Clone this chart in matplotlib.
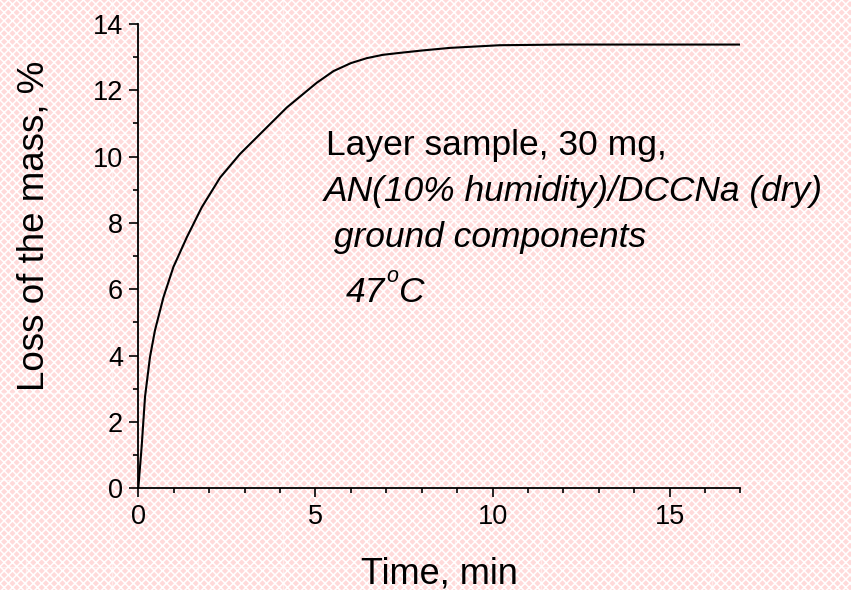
import matplotlib
matplotlib.use("Agg")
import matplotlib.pyplot as plt
from matplotlib.patches import Rectangle
from matplotlib.ticker import MultipleLocator
import numpy as np

# mass loss curve
time_min = [0, 0.094, 0.19, 0.33, 0.47, 0.71, 0.99, 1.37, 1.79, 2.31, 2.87, 3.53,
            4.19, 5.04, 5.51, 6.0, 6.45, 6.9, 7.39, 8.0, 8.8, 10.2, 12.0, 14.0, 17.0]
mass_loss = [0, 1.25, 2.76, 3.96, 4.76, 5.76, 6.67, 7.57, 8.47, 9.37, 10.08, 10.78,
             11.48, 12.23, 12.58, 12.82, 12.97, 13.07, 13.13, 13.2, 13.28, 13.36, 13.38, 13.38, 13.38]

note_lines = ["Layer sample, 30 mg,", "AN(10% humidity)/DCCNa (dry)", " ground components"]

W, H = 851, 590
plt.rcParams['font.family'] = ['Liberation Sans', 'DejaVu Sans']
plt.rcParams['hatch.color'] = 'white'
plt.rcParams['hatch.linewidth'] = 1.1

fig = plt.figure(figsize=(W / 100, H / 100), dpi=100)
fx = lambda px: px / W
fy = lambda py: 1 - py / H

# pink patterned background
fig.patches.append(Rectangle((0, 0), 1, 1, transform=fig.transFigure,
                             facecolor='#ffdada', edgecolor='white', linewidth=0,
                             hatch='xxxx', zorder=-10))
for gx in np.arange(26, W, 85.8):
    fig.add_artist(plt.Line2D([fx(gx), fx(gx)], [0, 1], color='white', lw=1, alpha=0.5, zorder=-9))
for gy in np.arange(47, H, 86.6):
    fig.add_artist(plt.Line2D([0, 1], [fy(gy), fy(gy)], color='white', lw=1, alpha=0.5, zorder=-9))

ax = fig.add_axes([fx(138.3), fy(488.3), fx(740.5) - fx(138.3), fy(24) - fy(488.3)])
ax.set_facecolor('none')
ax.plot(time_min, mass_loss, color='black', lw=1.5)

ax.set_xlim(0, 17)
ax.set_ylim(0, 14)
ax.xaxis.set_major_locator(MultipleLocator(5))
ax.xaxis.set_minor_locator(MultipleLocator(1))
ax.yaxis.set_major_locator(MultipleLocator(2))
ax.yaxis.set_minor_locator(MultipleLocator(1))
for s in ['top', 'right']:
    ax.spines[s].set_visible(False)
for s in ['left', 'bottom']:
    ax.spines[s].set_linewidth(1.3)
ax.tick_params(which='major', direction='out', length=6.5, width=1.2, labelsize=19.5, pad=4.5)
ax.tick_params(which='minor', direction='out', length=3.5, width=1.2)

ax.set_xlabel('Time, min', fontsize=26)
ax.xaxis.label.set_va('baseline')
ax.xaxis.set_label_coords(0.5, -0.205)
ax.set_ylabel('Loss of the mass, %', fontsize=26.5)
ax.yaxis.label.set_va('center')
ax.yaxis.set_label_coords(-0.173, 0.565)

# annotation block
fig.text(fx(326), fy(155), note_lines[0], fontsize=25.5, va='baseline')
fig.text(fx(324), fy(201.5), note_lines[1], fontsize=25.5, style='italic', va='baseline')
fig.text(fx(324), fy(247), note_lines[2], fontsize=25.5, style='italic', va='baseline')
fig.text(fx(346), fy(301.5), "47", fontsize=25.5, style='italic', va='baseline')
fig.text(fx(386), fy(282), "o", fontsize=15.5, style='italic', va='baseline')
fig.text(fx(398), fy(301.5), "C", fontsize=25.5, style='italic', va='baseline')

fig.savefig('out.png', dpi=100)
